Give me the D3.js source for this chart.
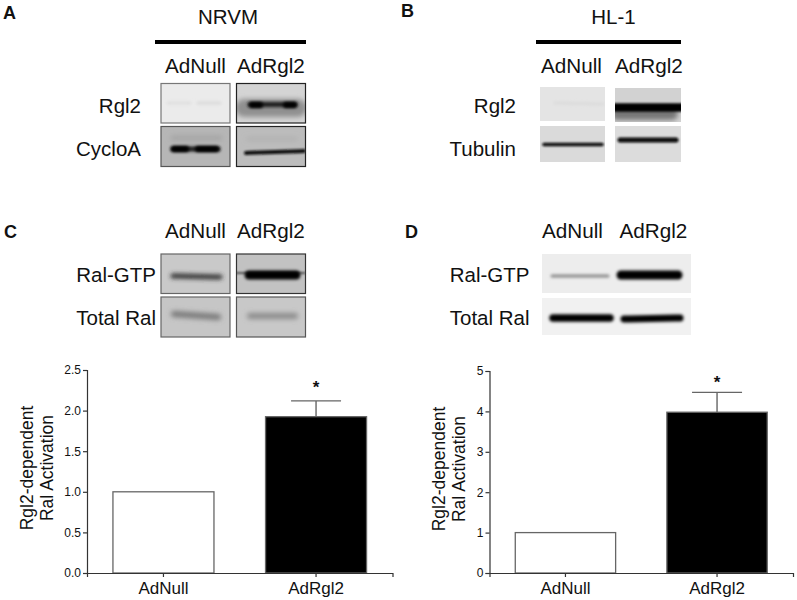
<!DOCTYPE html>
<html>
<head>
<meta charset="utf-8">
<script src="https://cdn.jsdelivr.net/npm/d3@7"></script>
<style>
body{margin:0;background:#fff;}
svg{display:block;}
text{font-family:"Liberation Sans",Arial,sans-serif;fill:#111;}
</style>
</head>
<body>
<svg id="fig" width="797" height="600"></svg>
<script>
var categories=["AdNull","AdRgl2"];

// bar charts
var ralC=[1.0,1.925];
var errC=[0,2.12];
var ticksC=[0,0.5,1,1.5,2,2.5];
var ralD=[1.0,3.98];
var errD=[0,4.47];
var ticksD=[0,1,2,3,4,5];

var svg=d3.select("#fig");
var defs=svg.append("defs");
// bands are flat lines so the filter region has to be in page units
[1,1.5,2,2.5,4].forEach(function(s){
  defs.append("filter")
  .attr("id","blur"+String(s).replace(".","_"))
  .attr("filterUnits","userSpaceOnUse")
  .attr("x",0).attr("y",0).attr("width",797).attr("height",600)
  .append("feGaussianBlur").attr("stdDeviation",s);
});

var clipCount=0;

// one piece of blot: x,y,w,h box, background, border, bands [x0,y0,x1,y1,thick,color,blur]
var drawBlot=function(b)
{
  clipCount++;
  var id="clip"+clipCount;
  defs.append("clipPath").attr("id",id)
  .append("rect").attr("x",b.x).attr("y",b.y).attr("width",b.w).attr("height",b.h);

  var g=svg.append("g").attr("clip-path","url(#"+id+")");
  g.append("rect")
  .attr("x",b.x).attr("y",b.y).attr("width",b.w).attr("height",b.h)
  .attr("fill",b.bg);

  var line=d3.line().curve(d3.curveBasis);
  g.selectAll("path")
  .data(b.bands)
  .enter()
  .append("path")
  .attr("d",function(d)
    {return line([[d[0],d[1]],[(d[0]+d[2])/2,(d[1]+d[3])/2],[d[2],d[3]]]);})
  .attr("fill","none")
  .attr("stroke-linecap","round")
  .attr("stroke-width",function(d){return d[4];})
  .attr("stroke",function(d){return d[5];})
  .attr("filter",function(d){return "url(#blur"+String(d[6]).replace(".","_")+")";});

  if(b.border)
  {
    svg.append("rect")
    .attr("x",b.x).attr("y",b.y).attr("width",b.w).attr("height",b.h)
    .attr("fill","none")
    .attr("stroke",b.border)
    .attr("stroke-width",1.2);
  }
}

var blots=[
  // A
  {x:161,y:83.5,w:69,h:39.5,bg:"#ebebeb",border:"#777",bands:[[168,103,190,103,3,"#dedede",1.5],[198,103,220,103,3,"#dadada",1.5]]},
  {x:236.5,y:83.5,w:69,h:39.5,bg:"#d4d4d4",border:"#222",bands:[[244,108,298,108,18,"#909090",2.5],[250,104.5,295,104.5,5,"#1c1c1c",1.5],[252,105,260,105,6,"#000",1.5],[286,105,294,105,6,"#000",1.5]]},
  {x:161,y:126.5,w:69,h:40,bg:"#b6b6b6",border:"#555",bands:[[173,138,220,138,5,"#a4a4a4",2.5],[173,149,218,149,5,"#1a1a1a",1.5],[174,149,186,149,6,"#000",1.5],[198,149,216,149,6,"#000",1.5]]},
  {x:236.5,y:126.5,w:69,h:40,bg:"#bcbcbc",border:"#222",bands:[[248,139,296,139,4,"#abababab",2.5],[246,153,304,151,4,"#111",1]]},
  // B
  {x:540,y:87,w:65,h:34,bg:"#e4e4e4",bands:[[555,103,603,104,3,"#dbdbdb",1.5]]},
  {x:615,y:88,w:66,h:34,bg:"#d2d2d2",bands:[[617,114,672,114,12,"#777",2.5],[612,107.5,684,107.5,8.5,"#000",1]]},
  {x:540,y:126,w:65,h:36,bg:"#dadada",bands:[[544,144.5,602,144.5,3.5,"#111",1]]},
  {x:615,y:126,w:66,h:36,bg:"#dcdcdc",bands:[[620,140,676,140,5,"#0a0a0a",1]]},
  // C
  {x:161,y:254,w:69,h:39.5,bg:"#c9c9c9",border:"#666",bands:[[173,276,220,277,5,"#333",2]]},
  {x:236.5,y:254,w:69,h:39.5,bg:"#c2c2c2",border:"#333",bands:[[236,273,305,273,2,"#555",1],[249,275,296,275,9,"#000",1.5]]},
  {x:161,y:297,w:69,h:40,bg:"#c6c6c6",border:"#666",bands:[[174,314,218,317,6,"#777",2.5]]},
  {x:236.5,y:297,w:69,h:40,bg:"#c8c8c8",border:"#555",bands:[[250,316,295,316,6,"#8a8a8a",2.5]]},
  // D
  {x:542,y:254,w:149,h:39,bg:"#ededed",bands:[[552,276,608,276,3,"#888",1.5],[621,275,678,275,9,"#000",1.5]]},
  {x:542,y:298,w:149,h:37,bg:"#f1f1f1",bands:[[553,318,610,318,7.5,"#050505",1.5],[624,319,680,318,7,"#050505",1.5]]}
];
blots.forEach(drawBlot);

var addText=function(t,x,y,size,anchor,weight)
{
  return svg.append("text")
  .attr("x",x).attr("y",y)
  .attr("font-size",size)
  .attr("text-anchor",anchor||"start")
  .attr("font-weight",weight||"normal")
  .text(t);
}

// panel letters
addText("A",3,19,18,"start","bold");
addText("B",401,17,18,"start","bold");
addText("C",4,238,18,"start","bold");
addText("D",405,238,18,"start","bold");

// headers
addText("NRVM",228,24,20.5,"middle");
addText("HL-1",613.5,24,20.5,"middle");
svg.append("rect").attr("x",155).attr("y",40).attr("width",151).attr("height",4).attr("fill","#000");
svg.append("rect").attr("x",536).attr("y",40).attr("width",145).attr("height",4).attr("fill","#000");

// lane labels
addText(categories[0],165,73,20.7);
addText(categories[1],237,73,20.7);
addText(categories[0],541,73,20.7);
addText(categories[1],615,73,20.7);
addText(categories[0],165,238,20.7);
addText(categories[1],237,238,20.7);
addText(categories[0],542,238,20.7);
addText(categories[1],619.5,238,20.7);

// row labels
addText("Rgl2",141,113,20.5,"end");
addText("CycloA",141,156,20.5,"end");
addText("Rgl2",516,113,20.5,"end");
addText("Tubulin",516,156,20.5,"end");
addText("Ral-GTP",156,282,20.5,"end");
addText("Total Ral",156,325,20.5,"end");
addText("Ral-GTP",529.5,282,20.5,"end");
addText("Total Ral",529.5,325,20.5,"end");

var drawBars=function(o)
{
  var x=d3.scaleBand()
  .domain(categories)
  .range([o.left,o.right])
  .paddingInner(0.338)
  .paddingOuter(0.17);

  var y=d3.scaleLinear()
  .domain([0,o.max])
  .range([o.bottom,o.top]);

  var g=svg.append("g");

  // error bars go under the bars
  g.selectAll(".err")
  .data(o.errs)
  .enter()
  .filter(function(d){return d>0;})
  .append("path")
  .attr("d",function(d,i)
    {
      var cx=x(categories[1])+x.bandwidth()/2;
      return "M"+cx+","+y(o.vals[1])+"V"+y(d)+"M"+(cx-25)+","+y(d)+"H"+(cx+25);
    })
  .attr("fill","none")
  .attr("stroke","#666")
  .attr("stroke-width",1.4);

  g.selectAll(".bar")
  .data(o.vals)
  .enter()
  .append("rect")
  .attr("x",function(d,i){return x(categories[i]);})
  .attr("y",function(d){return y(d);})
  .attr("width",x.bandwidth())
  .attr("height",function(d){return o.bottom-y(d);})
  .attr("fill",function(d,i){return i==0?"#fff":"#000";})
  .attr("stroke","#666")
  .attr("stroke-width",1.3);

  var yAxis=d3.axisLeft(y)
  .tickValues(o.ticks)
  .tickSize(4)
  .tickPadding(2)
  .tickFormat(o.fmt);

  var xAxis=d3.axisBottom(x)
  .tickSize(4)
  .tickPadding(5);

  var ya=g.append("g").attr("transform","translate("+o.left+",0)").call(yAxis);
  var xa=g.append("g").attr("transform","translate(0,"+o.bottom+")").call(xAxis);

  ya.selectAll("text").attr("font-size",12).style("font-family",'"Liberation Sans",Arial,sans-serif');
  xa.selectAll("text").attr("font-size",17).style("font-family",'"Liberation Sans",Arial,sans-serif');
  g.selectAll(".domain,.tick line").attr("stroke","#333").attr("stroke-width",1.2);

  // y title, two lines
  svg.append("text")
  .attr("transform","translate("+o.titleX+","+o.titleY+") rotate(-90)")
  .attr("text-anchor","middle")
  .attr("font-size",17.5)
  .text("Rgl2-dependent");
  svg.append("text")
  .attr("transform","translate("+(o.titleX+20)+","+o.titleY+") rotate(-90)")
  .attr("text-anchor","middle")
  .attr("font-size",17.5)
  .text("Ral Activation");

  // significance star
  svg.append("text")
  .attr("x",x(categories[1])+x.bandwidth()/2)
  .attr("y",y(o.errs[1])-o.starGap)
  .attr("text-anchor","middle")
  .attr("font-size",17)
  .attr("font-weight","bold")
  .text("*");
}

drawBars({
  vals:ralC,errs:errC,ticks:ticksC,max:2.5,
  fmt:d3.format(".1f"),
  left:87,right:392.5,top:370,bottom:573,
  titleX:33,titleY:468,starGap:7.5
});

drawBars({
  vals:ralD,errs:errD,ticks:ticksD,max:5,
  fmt:d3.format("d"),
  left:489.5,right:793,top:371,bottom:573,
  titleX:445,titleY:469,starGap:4.5
});
</script>
</body>
</html>
